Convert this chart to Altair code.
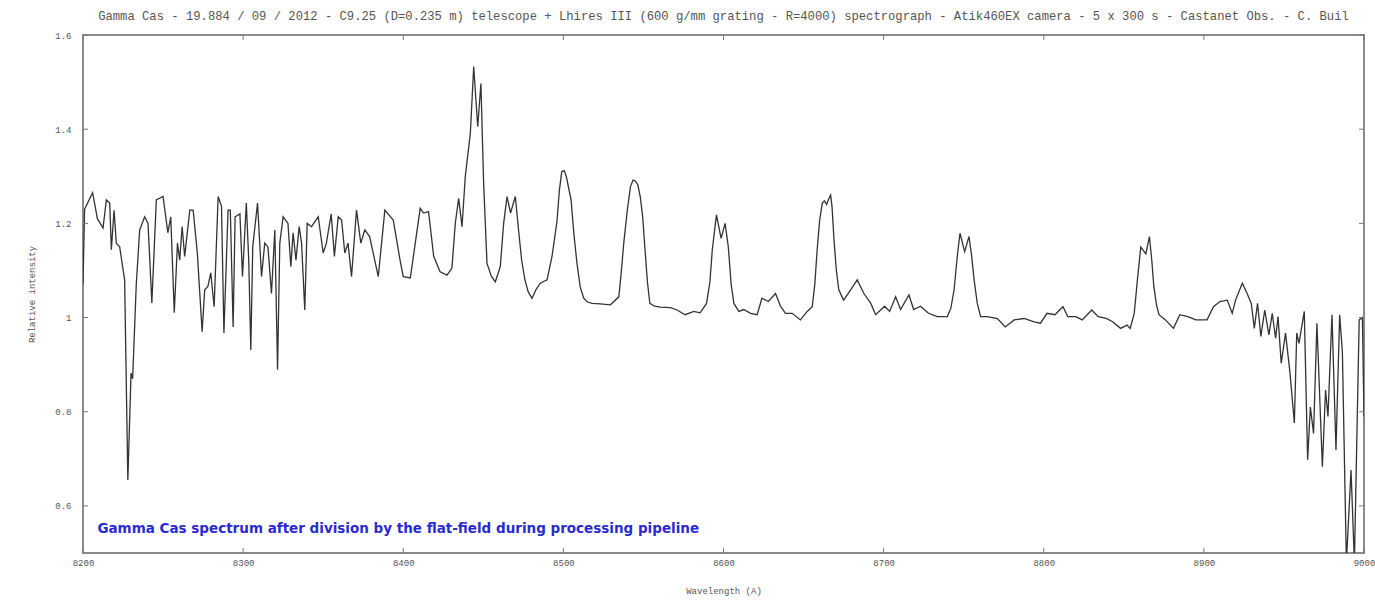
import altair as alt
import pandas as pd

wavelength = [
    8200, 8201, 8206, 8209, 8212.5, 8214.6, 8216.7, 8217.7, 8219.4, 8220.8, 8222.9, 8226, 8228, 8230, 8231,
    8233.3, 8235.4, 8238.5, 8240.6, 8243, 8245.8, 8250, 8253, 8254.8, 8257, 8259, 8260.4, 8261.9, 8263.5,
    8266.7, 8268.8, 8271.4, 8274.4, 8276, 8278, 8279.8, 8281.9, 8284.4, 8286.5, 8288, 8290.6, 8292, 8293.75,
    8295, 8298, 8299.6, 8302, 8303.5, 8304.8, 8306, 8309, 8311.5, 8313.5, 8315.5, 8317.7, 8319.8, 8321.5,
    8322.9, 8325, 8328, 8329.8, 8331.2, 8333, 8335, 8336.5, 8338.5, 8340, 8342.7, 8346.9, 8350, 8352, 8355,
    8357, 8359.4, 8361.5, 8363.5, 8365.5, 8367.7, 8370.8, 8373.5, 8376, 8379, 8384.4, 8388.5, 8393.75, 8398,
    8400, 8404.4, 8407.5, 8410.6, 8412.7, 8415.8, 8419, 8423, 8427.3, 8430.4, 8432.5, 8434.6, 8436.7, 8438.75,
    8441.9, 8444, 8446.5, 8448.5, 8450.2, 8452.3, 8455, 8457.5, 8460.6, 8462.7, 8464.8, 8467, 8470, 8472, 8474,
    8476, 8478, 8480.4, 8483, 8485.6, 8489.8, 8492.9, 8496, 8497.5, 8499, 8500.5, 8501.8, 8504.8, 8506.5,
    8508.5, 8510.5, 8512.7, 8515, 8518, 8523, 8529.4, 8534.6, 8536, 8537.7, 8540, 8541.9, 8543.5, 8545,
    8546.5, 8548, 8549.5, 8551, 8552.5, 8554, 8557, 8560.6, 8566.9, 8571, 8576, 8581.5, 8585.4, 8589.4,
    8591.5, 8593, 8595.6, 8598.5, 8601, 8603, 8604.8, 8606.5, 8609.6, 8612.7, 8616.9, 8621, 8624, 8628,
    8632.5, 8635.6, 8638.7, 8642.9, 8648, 8652.3, 8655.4, 8657, 8658.5, 8660, 8661.7, 8663, 8664.4, 8665.5,
    8666.9, 8667.8, 8669, 8670.5, 8672, 8675, 8679.4, 8683.5, 8687.7, 8692, 8695, 8700.6, 8703.75, 8707.5,
    8710.6, 8715.8, 8718.75, 8723, 8728, 8733.5, 8739.8, 8742, 8744, 8746, 8747.7, 8750.6, 8753.3, 8755,
    8756.5, 8758.5, 8760.6, 8764.8, 8771, 8776, 8781.5, 8787.7, 8794, 8798, 8802, 8807, 8812, 8815, 8820,
    8824, 8830, 8834, 8839, 8843, 8848, 8852, 8854, 8856.5, 8858.5, 8860.6, 8863.75, 8866, 8867.5, 8868.75,
    8870.5, 8872, 8876, 8881, 8885, 8890, 8895, 8902, 8906, 8910, 8914.6, 8917.7, 8919.8, 8924, 8927, 8929.6,
    8931.5, 8933.5, 8935.6, 8938, 8940.6, 8942.7, 8944.8, 8946.3, 8948.3, 8951, 8953.8, 8956.5, 8958, 8959.4,
    8962.7, 8964.8, 8966.5, 8968.5, 8970.6, 8974, 8976, 8977.5, 8980, 8982.5, 8984.8, 8986.5, 8989, 8991.9,
    8994, 8997, 8999, 9000,
]

intensity = [
    1.07, 1.23, 1.265, 1.21, 1.19, 1.25, 1.243, 1.144, 1.228, 1.158, 1.15, 1.08, 0.655, 0.882, 0.87,
    1.073, 1.186, 1.214, 1.2, 1.031, 1.25, 1.257, 1.18, 1.214, 1.01, 1.158, 1.122, 1.193, 1.13,
    1.228, 1.228, 1.137, 0.97, 1.059, 1.066, 1.095, 1.023, 1.257, 1.236, 0.967, 1.228, 1.228, 0.98,
    1.214, 1.22, 1.087, 1.243, 1.122, 0.931, 1.15, 1.243, 1.087, 1.158, 1.15, 1.051, 1.186, 0.889,
    1.158, 1.214, 1.2, 1.108, 1.18, 1.122, 1.193, 1.158, 1.016, 1.2, 1.193, 1.214, 1.137, 1.158, 1.22,
    1.13, 1.214, 1.207, 1.137, 1.158, 1.087, 1.228, 1.158, 1.186, 1.172, 1.087, 1.228, 1.207, 1.122,
    1.087, 1.084, 1.158, 1.232, 1.222, 1.225, 1.13, 1.097, 1.09, 1.105, 1.2, 1.253, 1.193, 1.3,
    1.391, 1.533, 1.405, 1.497, 1.285, 1.115, 1.088, 1.076, 1.108, 1.2, 1.257, 1.222, 1.257, 1.186, 1.12,
    1.08, 1.055, 1.041, 1.06, 1.073, 1.08, 1.13, 1.204, 1.27, 1.31, 1.312, 1.3, 1.25, 1.18,
    1.115, 1.065, 1.041, 1.033, 1.03, 1.029, 1.027, 1.044, 1.09, 1.158, 1.23, 1.278, 1.292, 1.29,
    1.282, 1.257, 1.215, 1.144, 1.075, 1.03, 1.024, 1.022, 1.021, 1.016, 1.006, 1.013, 1.01, 1.03,
    1.075, 1.144, 1.218, 1.168, 1.2, 1.15, 1.07, 1.03, 1.013, 1.017, 1.009, 1.006, 1.041, 1.034,
    1.051, 1.024, 1.009, 1.009, 0.995, 1.013, 1.023, 1.07, 1.144, 1.205, 1.243, 1.248, 1.24, 1.25,
    1.26, 1.235, 1.165, 1.1, 1.059, 1.037, 1.059, 1.08, 1.051, 1.03, 1.006, 1.024, 1.013, 1.044,
    1.017, 1.048, 1.017, 1.024, 1.009, 1.002, 1.002, 1.02, 1.059, 1.13, 1.179, 1.14, 1.172, 1.13,
    1.08, 1.03, 1.002, 1.002, 0.998, 0.98, 0.995, 0.998, 0.991, 0.988, 1.009, 1.006, 1.023, 1.002, 1.002,
    0.995, 1.016, 1.002, 0.998, 0.991, 0.977, 0.984, 0.977, 1.009, 1.08, 1.15, 1.135, 1.172, 1.12, 1.066,
    1.025, 1.006, 0.995, 0.977, 1.006, 1.002, 0.995, 0.995, 1.023, 1.034, 1.037, 1.009, 1.037, 1.073, 1.051, 1.03,
    0.977, 1.03, 0.96, 1.016, 0.963, 1.009, 0.956, 1.002, 0.903, 0.967, 0.882, 0.776, 0.967, 0.945,
    1.013, 0.698, 0.81, 0.754, 0.988, 0.683, 0.846, 0.79, 1.006, 0.719, 1.006, 0.927, 0.48, 0.676,
    0.48, 0.995, 1.0, 0.79,
]

x_ticks = [8200, 8300, 8400, 8500, 8600, 8700, 8800, 8900, 9000]
y_ticks = [0.6, 0.8, 1.0, 1.2, 1.4, 1.6]

title_text = ("Gamma Cas - 19.884 / 09 / 2012 - C9.25 (D=0.235 m) telescope + Lhires III "
              "(600 g/mm grating - R=4000)  spectrograph - Atik460EX camera - 5 x 300 s - "
              "Castanet Obs. - C. Buil")
note_text = ["Gamma Cas spectrum after division by the flat-field during processing pipeline"]
note_x = [8209]
note_y = [0.551]

spec = pd.DataFrame({"wl": wavelength, "I": intensity})
xt = pd.DataFrame({"v": x_ticks})
yt = pd.DataFrame({"v": y_ticks})
note = pd.DataFrame({"t": note_text, "x": note_x, "y": note_y})

W, H = 1281, 518
LABEL_FONT = "Liberation Mono"
GRAY = "#555555"

xscale = alt.Scale(domain=[8200, 9000], nice=False, zero=False)
yscale = alt.Scale(domain=[0.5, 1.6], nice=False, zero=False)

line = alt.Chart(spec).mark_line(color="#333333", strokeWidth=1.3, clip=True).encode(
    x=alt.X("wl:Q", scale=xscale,
            axis=alt.Axis(values=x_ticks, format="d", ticks=False, domain=False, grid=False,
                          labelFlush=False, title="Wavelength (A)", labelFont=LABEL_FONT,
                          labelFontSize=9, labelColor=GRAY, labelPadding=5, titleFont=LABEL_FONT,
                          titleFontSize=9, titleFontWeight="normal", titleColor=GRAY,
                          titlePadding=19)),
    y=alt.Y("I:Q", scale=yscale,
            axis=alt.Axis(values=y_ticks, format="~g", ticks=False, domain=False, grid=False,
                          labelFlush=False, title="Relative intensity", labelFont=LABEL_FONT,
                          labelFontSize=9, labelColor=GRAY, labelPadding=12, titleFont=LABEL_FONT,
                          titleFontSize=9, titleFontWeight="normal", titleColor=GRAY,
                          titlePadding=18)),
)

tick_len = 5
tick_style = dict(color="#777777", strokeWidth=1)
x_bottom = alt.Chart(xt).mark_rule(**tick_style).encode(
    x=alt.X("v:Q", scale=xscale), y=alt.value(H), y2=alt.value(H - tick_len))
x_top = alt.Chart(xt).mark_rule(**tick_style).encode(
    x=alt.X("v:Q", scale=xscale), y=alt.value(0), y2=alt.value(tick_len))
y_left = alt.Chart(yt).mark_rule(**tick_style).encode(
    y=alt.Y("v:Q", scale=yscale), x=alt.value(0), x2=alt.value(tick_len))
y_right = alt.Chart(yt).mark_rule(**tick_style).encode(
    y=alt.Y("v:Q", scale=yscale), x=alt.value(W), x2=alt.value(W - tick_len))

label = alt.Chart(note).mark_text(
    align="left", baseline="middle", font="DejaVu Sans", fontWeight="bold",
    fontSize=13.5, color="#2a2ad2").encode(
    x=alt.X("x:Q", scale=xscale), y=alt.Y("y:Q", scale=yscale), text="t:N")

chart = alt.layer(line, x_bottom, x_top, y_left, y_right, label).properties(
    width=W, height=H,
    title=alt.TitleParams(title_text, font=LABEL_FONT, fontSize=12.2, fontWeight="normal",
                          color=GRAY, offset=9, anchor="middle"),
    autosize=alt.AutoSizeParams(type="none"),
    padding={"left": 83, "top": 35, "right": 11, "bottom": 48},
    background="white",
).configure_view(stroke="#8a8a8a", strokeWidth=2)

chart.save("out.html", embed_options={"renderer": "svg", "actions": False})
